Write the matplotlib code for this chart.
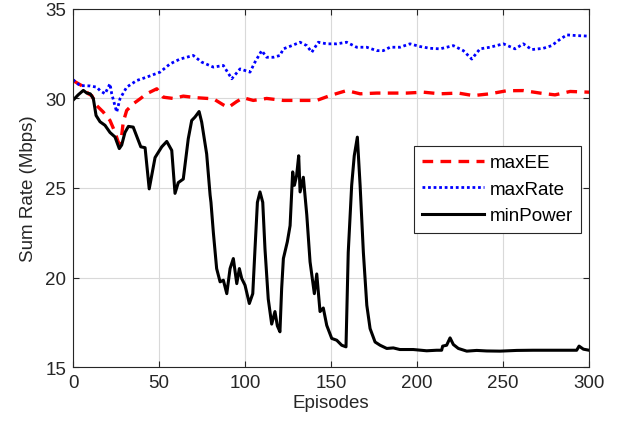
import matplotlib
matplotlib.use('Agg')
import matplotlib.pyplot as plt

plt.rcParams['font.family'] = ['Liberation Sans', 'DejaVu Sans']

# ── data ──────────────────────────────────────────────────────
ee_x = [0, 5, 8.9, 10.9, 13.8, 17.6, 21.5, 24.4, 26.3, 27.3, 28.3, 29.2, 31.2, 35, 39, 42.8,
        48.7, 52.5, 58.3, 64.1, 71.9, 81.6, 87.4, 90.3, 95.2, 99, 104.8, 112.6, 122.3, 132,
        141.7, 149.4, 154.2, 159.1, 166.9, 176.6, 186.2, 194, 203.7, 213.4, 224, 232.7,
        242.4, 252.1, 261.8, 271.5, 280.2, 289, 300]
ee_y = [31.0, 30.72, 30.26, 30.16, 29.6, 29.24, 28.77, 28.12, 27.56, 27.47, 27.93, 28.68,
        29.33, 29.7, 29.98, 30.26, 30.54, 30.07, 30.0, 30.13, 30.04, 29.98, 29.64, 29.5,
        29.83, 30.04, 29.89, 30.0, 29.89, 29.89, 29.89, 30.16, 30.3, 30.44, 30.26, 30.3,
        30.3, 30.3, 30.35, 30.26, 30.3, 30.16, 30.26, 30.43, 30.44, 30.3, 30.2, 30.39, 30.35]

rate_x = [0, 4, 9.9, 13.8, 15.7, 18.6, 21.5, 22.5, 25.4, 27.3, 31.2, 37, 42.8, 50.6, 56.4,
          62.2, 69.9, 74.8, 81.6, 87.4, 92.3, 97.1, 102.9, 105.8, 109.7, 112.6, 116.5,
          120.3, 122.3, 127.2, 132, 135.9, 138.8, 142.6, 147.5, 153.3, 159.1, 164.9,
          170.7, 176.6, 180.4, 184.3, 190.1, 195.9, 201.7, 207.6, 213.4, 221.1, 226.9,
          231.8, 236.6, 242.4, 250.2, 257, 261.8, 266.7, 273.4, 278.3, 282.1, 287, 292.8, 300]
rate_y = [31.05, 30.72, 30.7, 30.63, 30.44, 30.26, 30.82, 30.26, 29.24, 29.98, 30.63, 31.0,
          31.19, 31.47, 31.93, 32.2, 32.4, 32.03, 31.75, 31.84, 31.1, 31.65, 31.47, 32.03,
          32.67, 32.3, 32.3, 32.4, 32.77, 32.95, 33.14, 32.95, 32.58, 33.14, 33.05, 33.05,
          33.14, 32.86, 32.86, 32.67, 32.67, 32.86, 32.86, 33.05, 32.9, 32.8, 32.77, 32.95,
          32.67, 32.2, 32.77, 32.86, 33.05, 32.77, 33.05, 32.73, 32.8, 32.95, 33.23, 33.55,
          33.51, 33.48]

pow_x = [0, 3, 6, 8, 10, 11.8, 13.4, 15.7, 18.6, 21.5, 24.4, 26.9, 28.3, 30.2, 32.2, 35,
         37, 39.4, 41.9, 44.3, 47.7, 51.6, 54.5, 57.4, 59.3, 61.2, 64.1, 67, 69, 70.9,
         73.3, 74.8, 77.7, 79.7, 80.2, 81.6, 83.5, 85.5, 87.4, 89.4, 91.3, 93.2, 95.2,
         96.7, 98.1, 100, 102.5, 104.5, 105.8, 107.2, 108.7, 110.3, 111.6, 113.5, 115.5,
         117.4, 118.8, 120.3, 121.3, 122.3, 124.6, 126.2, 127.7, 128.7, 130, 131.2, 132,
         133.9, 135.9, 137.8, 140.3, 141.7, 143.6, 145.5, 147.5, 150.4, 153.3, 156.2,
         158.7, 160, 162, 163.5, 165.3, 166.9, 168.8, 170.8, 172.7, 175.6, 178.5, 182.4,
         186.2, 190, 197.8, 205.6, 211.4, 214.3, 214.9, 217.2, 219.2, 221.1, 224, 228.9,
         234.7, 240.5, 248.3, 258, 267.6, 277.3, 287, 292.8, 294.2, 296.7, 300]
pow_y = [29.9, 30.2, 30.45, 30.3, 30.26, 30.0, 29.05, 28.7, 28.5, 28.1, 27.85, 27.2, 27.4,
         28.1, 28.44, 28.4, 27.9, 27.3, 27.25, 24.95, 26.7, 27.3, 27.6, 27.1, 24.7, 25.3,
         25.5, 27.75, 28.77, 28.96, 29.27, 28.68, 26.9, 24.6, 24.2, 22.5, 20.5, 19.76,
         19.85, 19.1, 20.5, 21.06, 19.66, 20.5, 19.94, 19.57, 18.55, 19.1, 21.6, 24.2,
         24.78, 24.2, 21.6, 18.8, 17.4, 18.1, 17.3, 16.97, 19.4, 21.06, 22.0, 22.9, 25.9,
         25.15, 25.7, 26.8, 24.78, 25.6, 23.5, 20.88, 19.1, 20.2, 18.1, 18.3, 17.33, 16.6,
         16.5, 16.22, 16.13, 21.4, 25.15, 26.8, 27.84, 25.15, 21.4, 18.45, 17.15, 16.4,
         16.22, 16.04, 16.07, 15.98, 15.98, 15.91, 15.94, 15.94, 16.17, 16.22, 16.63,
         16.26, 16.04, 15.89, 15.93, 15.9, 15.89, 15.93, 15.94, 15.94, 15.94, 15.94,
         16.17, 16.0, 15.94]

x_ticks = [0, 50, 100, 150, 200, 250, 300]
y_ticks = [15, 20, 25, 30, 35]

# ── chart ─────────────────────────────────────────────────────
fig = plt.figure(figsize=(6.24, 4.31), dpi=100)
ax = fig.add_axes([0.117, 0.146, 0.827, 0.831])

ax.plot(ee_x, ee_y, color='red', linestyle=(0, (3.2, 2.2)), linewidth=2.4, label='maxEE')
ax.plot(rate_x, rate_y, color='blue', linestyle=(0, (1, 1)), linewidth=2.0, label='maxRate')
ax.plot(pow_x, pow_y, color='black', linewidth=2.2, label='minPower')

ax.set_xlim(0, 300)
ax.set_ylim(15, 35)
ax.set_xticks(x_ticks)
ax.set_yticks(y_ticks)
ax.grid(True, color='#d9d9d9', linewidth=0.8)
ax.set_axisbelow(True)
ax.tick_params(direction='in', labelsize=13.5, colors='#262626', length=4,
               top=True, right=True, pad=5)
for sp in ax.spines.values():
    sp.set_color('#262626')
    sp.set_linewidth(0.8)

ax.set_xlabel('Episodes', fontsize=13.5, color='#262626', labelpad=2)
ax.set_ylabel('Sum Rate (Mbps)', fontsize=13.5, color='#262626', labelpad=6)

leg = ax.legend(loc='upper right', bbox_to_anchor=(0.985, 0.618), fontsize=13.5,
                fancybox=False, framealpha=1, edgecolor='#262626',
                handlelength=3.3, handletextpad=0.3, borderpad=0.45, labelspacing=0.5,
                borderaxespad=0)
leg.get_frame().set_linewidth(0.8)

plt.savefig('out.png', dpi=100)
